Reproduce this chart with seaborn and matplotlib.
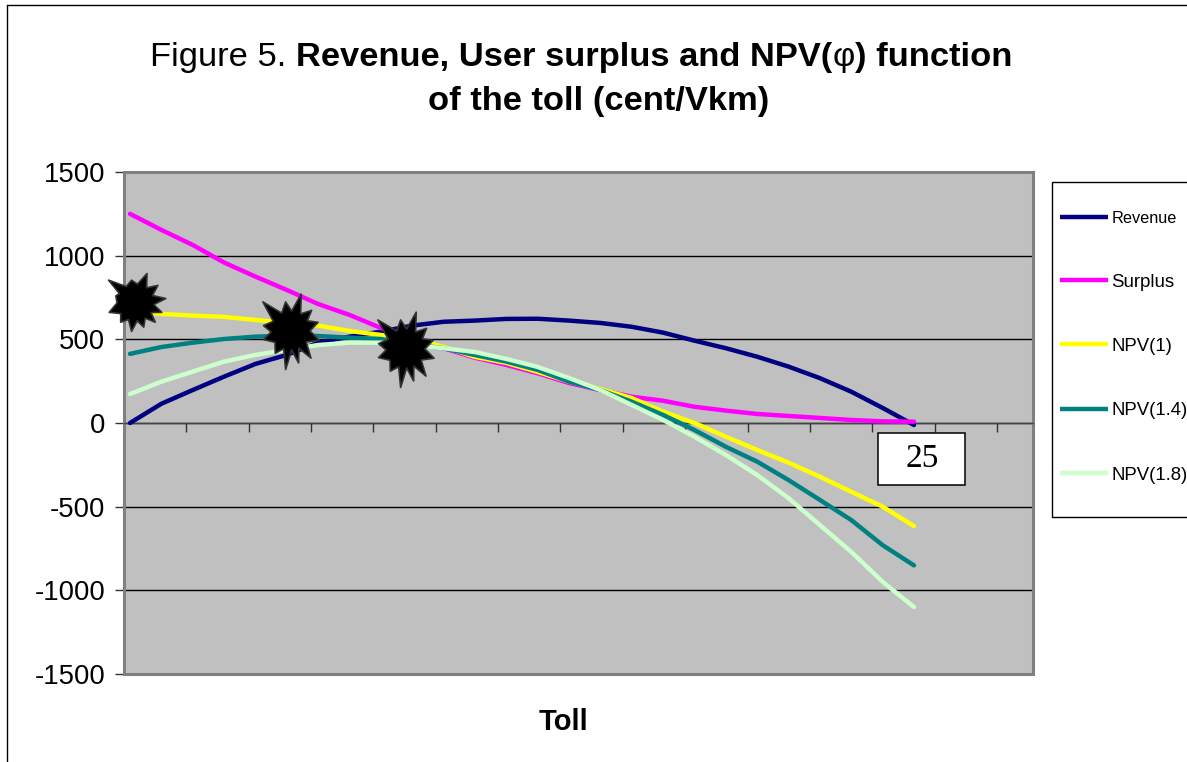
import numpy as np
import pandas as pd
import seaborn as sns
import matplotlib.pyplot as plt
from matplotlib.lines import Line2D
from matplotlib.patches import Rectangle
from matplotlib.path import Path

W, H = 1187, 762

toll = list(range(26))
revenue = [0, 115, 197, 277, 353, 407, 480, 516, 546, 582, 605, 612, 622, 623, 612,
           598, 575, 540, 492, 447, 396, 337, 268, 187, 90, -12]
surplus = [1250, 1154, 1064, 959, 875, 795, 711, 646, 568, 486, 447, 390, 347, 297, 239,
           197, 157, 133, 97, 74, 54, 42, 30, 18, 10, 8]
npv_1 = [670, 652, 642, 634, 616, 598, 582, 550, 526, 500, 455, 395, 359, 305, 247,
         203, 149, 68, 0, -82, -161, -237, -321, -411, -500, -616]
npv_14 = [413, 454, 480, 502, 516, 522, 520, 510, 502, 470, 447, 406, 367, 317, 247,
          197, 127, 48, -42, -142, -231, -341, -460, -580, -730, -851]
npv_18 = [173, 247, 307, 367, 407, 437, 466, 480, 480, 466, 447, 424, 383, 335, 269,
          197, 108, 18, -82, -191, -311, -449, -610, -770, -949, -1100]

series_names = ["Revenue", "Surplus", "NPV(1)", "NPV(1.4)", "NPV(1.8)"]
series_values = [revenue, surplus, npv_1, npv_14, npv_18]
series_colors = ["#000080", "#FF00FF", "#FFFF00", "#008080", "#CCFFCC"]

y_ticks = [-1500, -1000, -500, 0, 500, 1000, 1500]

# where the three starbursts sit, and how big
star_toll = [0.16, 5.1, 8.77]
star_value = [725, 556, 448]
star_size = [1900, 3150, 3150]


def px_x(x):
    return x / W


def px_y(y):
    return 1 - y / H


def star_path(spikes, valley):
    # spike tips as (dx, dy), a valley is put between each neighbouring pair
    verts = []
    for i, (dx, dy) in enumerate(spikes):
        nx, ny = spikes[(i + 1) % len(spikes)]
        verts.append((dx, dy))
        a1, a2 = np.arctan2(dy, dx), np.arctan2(ny, nx)
        diff = (a2 - a1 + np.pi) % (2 * np.pi) - np.pi
        mid = a1 + diff / 2
        verts.append((valley * np.cos(mid), valley * np.sin(mid)))
    verts.append(verts[0])
    codes = [Path.MOVETO] + [Path.LINETO] * (len(verts) - 2) + [Path.CLOSEPOLY]
    return Path(verts, codes)


small_star = star_path([(-82, 68), (-12, 68), (35, 88), (68, 52), (92, 12), (80, -30),
                        (60, -60), (25, -75), (-12, -88), (-45, -60), (-80, -30), (-60, 20)][::-1], 56)
big_star = star_path([(-85, 88), (-15, 88), (33, 112), (65, 62), (85, 25), (88, -30),
                      (63, -85), (25, -100), (-15, -120), (-47, -70), (-83, -28), (-83, 15)][::-1], 60)
star_shapes = [small_star, big_star, big_star]

sns.set_theme(style="white")
plt.rcParams["font.family"] = ["Liberation Sans", "DejaVu Sans"]
plt.rcParams["axes.unicode_minus"] = False
plt.rcParams["text.color"] = "black"

df = pd.DataFrame({"Toll": toll * len(series_names),
                   "Value": sum(series_values, []),
                   "Series": np.repeat(series_names, len(toll))})

fig = plt.figure(figsize=(W / 100, H / 100), dpi=100, facecolor="white")
left, right, top, bottom = 124, 1033, 172, 674
ax = fig.add_axes([px_x(left), px_y(bottom), (right - left) / W, (bottom - top) / H])
ax.set_facecolor("#C0C0C0")

sns.lineplot(data=df, x="Toll", y="Value", hue="Series", hue_order=series_names,
             palette=dict(zip(series_names, series_colors)), linewidth=3.2,
             sort=False, errorbar=None, ax=ax, zorder=3)

px_per_toll = 31.36
x_min = (left - 130) / px_per_toll
x_max = (right - 130) / px_per_toll
ax.set_xlim(x_min, x_max)
ax.set_ylim(-1500, 1500)

ax.set_yticks(y_ticks)
ax.set_xticks(np.arange(x_min, x_max, 62.35 / px_per_toll))
ax.set_xticklabels([])
ax.tick_params(axis="y", length=6.5, width=1, color="#333333", pad=7, labelsize=19.8,
               labelcolor="black", left=True)
ax.tick_params(axis="x", length=6.5, width=1, color="#333333", direction="out", bottom=True)
ax.grid(axis="y", color="black", linewidth=1, zorder=1)
ax.grid(axis="x", visible=False)
ax.set_axisbelow(True)

ax.spines["bottom"].set_position(("data", 0))
ax.spines["bottom"].set_color("#444444")
ax.spines["bottom"].set_linewidth(1)
for side in ["left", "top", "right"]:
    ax.spines[side].set_color("#808080")
    ax.spines[side].set_linewidth(2.2)
# frame at the foot of the plot, the bottom spine is used as the zero line
ax.add_line(Line2D([0, 1], [0, 0], transform=ax.transAxes, color="#808080", lw=2.2,
                   clip_on=False, zorder=2))

for i in range(len(star_toll)):
    ax.scatter(star_toll[i], star_value[i], marker=star_shapes[i], s=star_size[i],
               facecolor="black", edgecolor="#333333", linewidth=1.2, clip_on=False, zorder=5)

ax.set_ylabel("")
ax.set_xlabel("Toll", fontsize=21, fontweight="bold", color="black", va="center")
ax.xaxis.set_label_coords(0.483, -0.096)

# legend frame drawn apart, its padding is not even on both axes
fig.add_artist(Rectangle((px_x(1052), px_y(517)), 200 / W, 335 / H, transform=fig.transFigure,
                         facecolor="white", edgecolor="black", linewidth=1, zorder=-1))
handles, labels = ax.get_legend_handles_labels()
leg = ax.legend(handles, labels, loc="center left", frameon=False, fontsize=13.4,
                bbox_to_anchor=(px_x(1052), px_y(347)), bbox_transform=fig.transFigure,
                borderaxespad=0, borderpad=0.42, handlelength=2.58, handletextpad=0.2,
                labelspacing=2.55, labelcolor="black")
leg.get_texts()[0].set_fontsize(11.7)
for line in leg.get_lines():
    line.set_linewidth(3.2)
    line.set_solid_capstyle("butt")
leg.set_zorder(10)

# the "25" call-out box
fig.add_artist(Rectangle((px_x(878), px_y(485)), 87 / W, 52 / H, transform=fig.transFigure,
                         facecolor="white", edgecolor="black", linewidth=1.1, zorder=6))
fig.text(px_x(922), px_y(459), "25", fontsize=24, family="Liberation Serif", color="black",
         ha="center", va="center", zorder=7)

# page border
fig.add_artist(Line2D([px_x(7), px_x(7)], [0, px_y(5)], color="black", lw=1))
fig.add_artist(Line2D([px_x(7), 1], [px_y(5), px_y(5)], color="black", lw=1))

# title, the first line changes weight so it goes piece by piece
pieces = [("Figure 5. ", "normal"), ("Revenue, User surplus and NPV(", "bold"),
          ("\u03c6", "normal"), (") function", "bold")]
renderer = fig.canvas.get_renderer()
drawn = []
for txt, weight in pieces:
    drawn.append(fig.text(0, px_y(66), txt, fontsize=24.8, fontweight=weight, color="black",
                          va="baseline", ha="left"))
widths = []
for t in drawn:
    t.set_text(t.get_text().replace(" ", "\u00a0"))
    widths.append(t.get_window_extent(renderer).width)
cursor = 581 - sum(widths) / 2
for t, w in zip(drawn, widths):
    t.set_x(px_x(cursor))
    cursor += w
fig.text(px_x(599), px_y(110), "of the toll (cent/Vkm)", fontsize=24.8, fontweight="bold",
         color="black", ha="center", va="baseline")

fig.savefig("out.png", dpi=100, facecolor="white")
